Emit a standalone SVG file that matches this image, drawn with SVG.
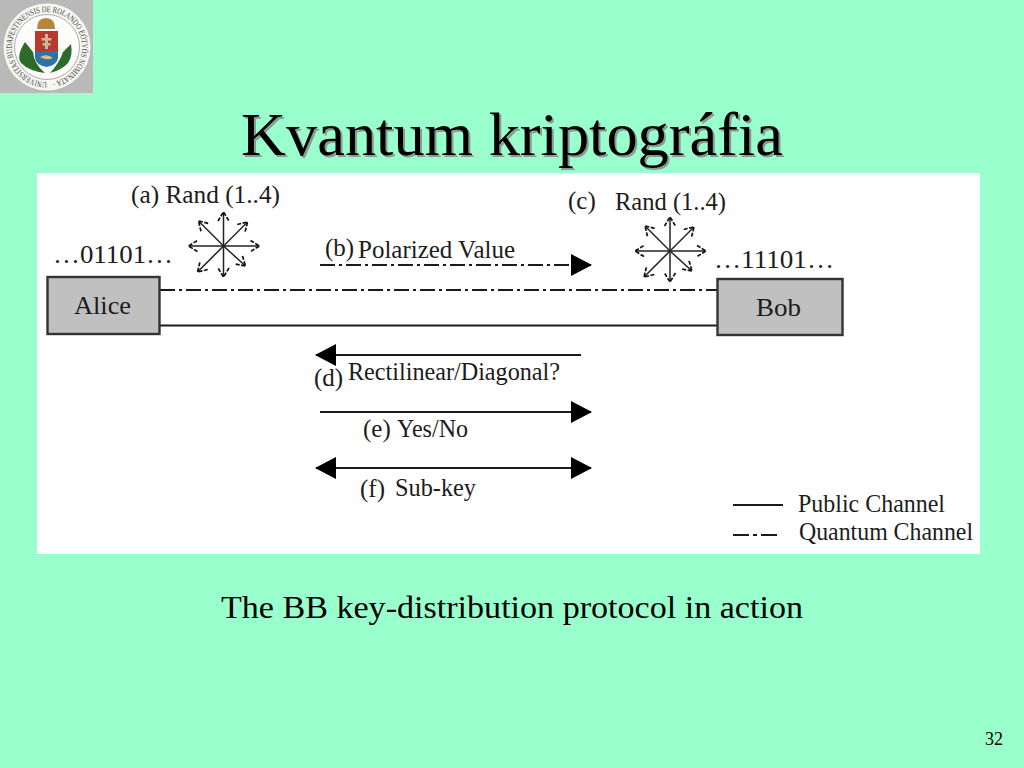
<svg xmlns="http://www.w3.org/2000/svg" width="1024" height="768" viewBox="0 0 1024 768">
<style>
.t{font-family:"Liberation Serif","Times New Roman",serif;fill:#1c1c1c;font-size:25px}
.ln{stroke:#1a1a1a;stroke-width:2;fill:none}
.q{stroke-dasharray:15 4 3 4}
.box{fill:#c0c0c0;stroke:#333;stroke-width:2.4}
.star{stroke:#222;stroke-width:1.5;fill:none}
.seal{font-family:"Liberation Serif",serif;font-size:8.6px;fill:#444}
</style>
<defs>
<marker id="solid" markerUnits="userSpaceOnUse" markerWidth="22" markerHeight="24" refX="20" refY="11" orient="auto-start-reverse"><path d="M0 0L21 11L0 22Z" fill="#000"/></marker>
<marker id="open" markerUnits="userSpaceOnUse" markerWidth="14" markerHeight="14" refX="11" refY="7" orient="auto"><path d="M2 1.500L11 7L2 12.500" fill="none" stroke="#111" stroke-width="1.700" stroke-dasharray="4 1.500"/></marker>
<g id="starShape" class="star">
<path marker-end="url(#open)" d="M0 0L0-34"/><path marker-end="url(#open)" d="M0 0L0 31"/>
<path marker-end="url(#open)" d="M0 0L-35 0"/><path marker-end="url(#open)" d="M0 0L36 0"/>
<path marker-end="url(#open)" d="M0 0L-25-25"/><path marker-end="url(#open)" d="M0 0L24-24"/>
<path marker-end="url(#open)" d="M0 0L-26 26"/><path marker-end="url(#open)" d="M0 0L22 20"/>
</g>
<path id="sealArc" d="M47 82A35 35 0 1 1 47 12A35 35 0 1 1 47 82"/>
</defs>
<rect width="1024" height="768" fill="#99ffcc"/>
<g id="logo">
<rect width="93" height="93" fill="#b9b9b9"/>
<circle cx="47" cy="47" r="43.500" fill="#f7f7f2"/>
<circle cx="47" cy="47" r="32.500" fill="#fcfcfa" stroke="#777" stroke-width=".6"/>
<text class="seal"><textPath href="#sealArc" textLength="214" lengthAdjust="spacingAndGlyphs">UNIVERSITAS BUDAPESTINENSIS DE ROLANDO EÖTVÖS NOMINATA ·</textPath></text>
<path d="M37 29Q37 18 46 18Q55 18 55 29Z" fill="#b7863e"/>
<path d="M35 31H58V53H35Z" fill="#b93a2c"/>
<path d="M35 51H58V58Q57 65 46.500 67Q36 65 35 58Z" fill="#2d72a8"/>
<path d="M45 34H48V49H45ZM41.500 38H51.500V40.500H41.500ZM42.500 43H50.500V45.500H42.500Z" fill="#c9b7a0"/>
<path d="M40 57Q47 53 53 58Q47 61 40 57Z" fill="#d9c070"/>
<path d="M25 42Q16 56 21 63Q29 71 45 73Q34 64 33 52Z" fill="#2e6b2a"/>
<path d="M71 44Q73 56 68 63Q62 70 50 73Q60 62 63 52Z" fill="#2e6b2a"/>
</g>
<g id="title" font-family="Liberation Serif,serif" font-size="62">
<text x="243" y="157" fill="#8a9a92" textLength="542" lengthAdjust="spacingAndGlyphs">Kvantum kriptográfia</text>
<text x="241" y="155" fill="#000" textLength="542" lengthAdjust="spacingAndGlyphs">Kvantum kriptográfia</text>
</g>
<rect x="37" y="173" width="943" height="381" fill="#fff"/>
<g id="connectors">
<path class="ln q" d="M160 290H717"/>
<path class="ln" d="M160 325.500H717"/>
<path class="ln q" d="M320 265H591" marker-end="url(#solid)"/>
<path class="ln" d="M581 355H316" marker-end="url(#solid)"/>
<path class="ln" d="M320 412H591" marker-end="url(#solid)"/>
<path class="ln" d="M316 468H591" marker-start="url(#solid)" marker-end="url(#solid)"/>
</g>
<g id="alice"><rect class="box" x="47.500" y="277" width="112" height="57"/><text class="t" x="74" y="314" textLength="57" lengthAdjust="spacingAndGlyphs">Alice</text></g>
<g id="bob"><rect class="box" x="717.500" y="279" width="125" height="56"/><text class="t" x="756" y="316" textLength="45" lengthAdjust="spacingAndGlyphs">Bob</text></g>
<g id="star-a"><use href="#starShape" x="223.500" y="246"/></g>
<g id="star-c"><use href="#starShape" x="670" y="251"/></g>
<g id="labels" lengthAdjust="spacingAndGlyphs">
<text class="t" x="131" y="203" textLength="149" lengthAdjust="spacingAndGlyphs">(a) Rand (1..4)</text>
<text class="t" x="53" y="263" textLength="120" lengthAdjust="spacingAndGlyphs">…01101…</text>
<text class="t" x="568" y="209">(c)</text>
<text class="t" x="615" y="210" textLength="111" lengthAdjust="spacingAndGlyphs">Rand (1..4)</text>
<text class="t" x="714" y="268" textLength="120" lengthAdjust="spacingAndGlyphs">…11101…</text>
<text class="t" x="325" y="256">(b)</text>
<text class="t" x="358" y="258" textLength="157" lengthAdjust="spacingAndGlyphs">Polarized Value</text>
<text class="t" x="314" y="386">(d)</text>
<text class="t" x="348" y="380" textLength="212" lengthAdjust="spacingAndGlyphs">Rectilinear/Diagonal?</text>
<text class="t" x="363" y="437">(e)</text>
<text class="t" x="397" y="437" textLength="71" lengthAdjust="spacingAndGlyphs">Yes/No</text>
<text class="t" x="360" y="497">(f)</text>
<text class="t" x="395" y="496" textLength="81" lengthAdjust="spacingAndGlyphs">Sub-key</text>
</g>
<g id="legend">
<path class="ln" d="M733 505H783"/>
<path class="ln" d="M733 535H780" stroke-dasharray="16 4 4 4"/>
<text class="t" x="798" y="512" textLength="147" lengthAdjust="spacingAndGlyphs">Public Channel</text>
<text class="t" x="799" y="540" textLength="174" lengthAdjust="spacingAndGlyphs">Quantum Channel</text>
</g>
<g id="caption" font-family="Liberation Serif,serif" fill="#000">
<text x="221" y="618" font-size="31" textLength="582" lengthAdjust="spacingAndGlyphs">The BB key-distribution protocol in action</text>
<text x="985" y="745" font-size="18">32</text>
</g>
</svg>
